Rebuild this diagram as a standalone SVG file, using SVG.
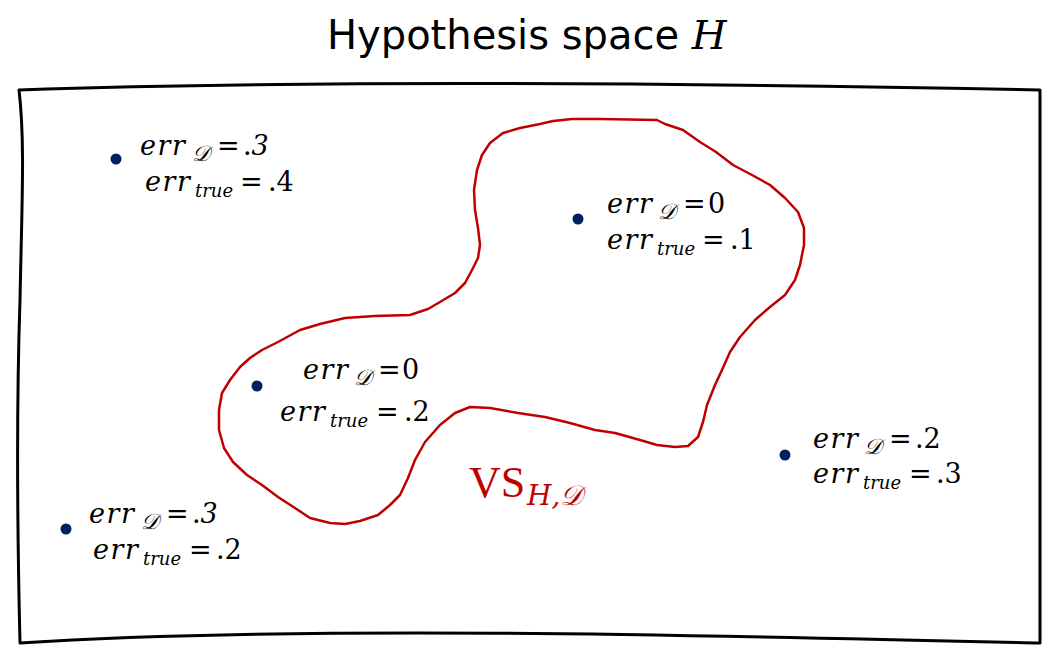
<svg xmlns="http://www.w3.org/2000/svg" width="1057" height="660" viewBox="0 0 1057 660">
<style>
.title{font-family:"DejaVu Sans","Liberation Sans",sans-serif;font-size:40px;fill:#000}
.m{font-family:"DejaVu Serif","Liberation Serif",serif;font-size:27px;fill:#000}
.it{font-style:italic}
.sub{font-family:"DejaVu Serif","Liberation Serif",serif;font-style:italic;font-size:18px}
.sd{font-size:22px}
.dot{fill:#002060}
.vs{font-family:"Liberation Serif","DejaVu Serif",serif;font-size:44px;fill:#C00000}
.vss{font-family:"DejaVu Serif","Liberation Serif",serif;font-style:italic;font-size:28px;fill:#C00000}
</style>
<rect width="1057" height="660" fill="#fff"/>
<g id="frame">
<path d="M19,90 C200,84 500,79 1040,90 L1040,643 C700,635 300,625 20,643 C18,560 16,420 20,300 C22,200 25,140 19,90 Z" fill="none" stroke="#000" stroke-width="3" stroke-linejoin="round"/>
</g>
<g id="title"><text class="title" x="327" y="49">Hypothesis space <tspan font-family="DejaVu Serif, serif" font-style="italic">H</tspan></text></g>
<g id="version-space">
<path d="M553,121 L572,119 L600,119 L657,120 L665,124 L683,130 L700,142 L716,152 L733,165 L752,175 L770,185 L785,198 L798,212 L804,228 L804,245 L800,265 L795,280 L785,295 L770,307 L755,320 L740,337 L730,352 L722,370 L715,385 L707,405 L703,422 L698,437 L688,446 L675,447 L657,445 L640,440 L615,433 L595,430 L570,423 L545,417 L518,413 L490,408 L470,407 L455,413 L440,425 L425,442 L415,460 L408,478 L400,495 L390,505 L378,515 L360,521 L345,524 L330,523 L310,518 L295,508 L278,497 L262,485 L247,475 L233,462 L224,448 L219,430 L219,410 L222,393 L230,380 L240,367 L250,358 L262,350 L278,342 L300,330 L320,324 L345,318 L375,316 L410,315 L428,309 L440,302 L455,293 L465,283 L472,270 L478,258 L480,245 L478,228 L475,210 L474,190 L477,170 L482,155 L490,143 L503,133 L520,128 L540,124 Z" fill="none" stroke="#C00000" stroke-width="2.5" stroke-linejoin="round"/>
<text class="vs" x="469" y="497">VS<tspan class="vss" x="527" dy="8">H,</tspan><tspan class="vss" font-size="32px">𝒟</tspan></text>
</g>
<g id="h1">
<circle class="dot" cx="116" cy="159" r="5.5"/>
<text class="m" y="155"><tspan class="it" x="140" letter-spacing="1.5">err</tspan><tspan class="sub sd" x="192" dy="6">𝒟</tspan><tspan x="217" dy="-6">=</tspan><tspan x="243">.</tspan><tspan class="it">3</tspan></text>
<text class="m" y="191"><tspan class="it" x="145" letter-spacing="1.5">err</tspan><tspan class="sub" x="195" dy="6">true</tspan><tspan x="240" dy="-6">=</tspan><tspan x="268">.4</tspan></text>
</g>
<g id="h2">
<circle class="dot" cx="578" cy="219" r="5.5"/>
<text class="m" y="213"><tspan class="it" x="607" letter-spacing="1.5">err</tspan><tspan class="sub sd" x="658" dy="6">𝒟</tspan><tspan x="683" dy="-6">=</tspan><tspan x="708">0</tspan></text>
<text class="m" y="249"><tspan class="it" x="607" letter-spacing="1.5">err</tspan><tspan class="sub" x="657" dy="6">true</tspan><tspan x="702" dy="-6">=</tspan><tspan x="730">.1</tspan></text>
</g>
<g id="h3">
<circle class="dot" cx="257" cy="386" r="5.5"/>
<text class="m" y="379"><tspan class="it" x="303" letter-spacing="1.5">err</tspan><tspan class="sub sd" x="354" dy="6">𝒟</tspan><tspan x="378" dy="-6">=</tspan><tspan x="402">0</tspan></text>
<text class="m" y="421"><tspan class="it" x="280" letter-spacing="1.5">err</tspan><tspan class="sub" x="330" dy="6">true</tspan><tspan x="376" dy="-6">=</tspan><tspan x="404">.2</tspan></text>
</g>
<g id="h4">
<circle class="dot" cx="785" cy="455" r="5.5"/>
<text class="m" y="448"><tspan class="it" x="813" letter-spacing="1.5">err</tspan><tspan class="sub sd" x="864" dy="6">𝒟</tspan><tspan x="889" dy="-6">=</tspan><tspan x="915">.2</tspan></text>
<text class="m" y="483"><tspan class="it" x="813" letter-spacing="1.5">err</tspan><tspan class="sub" x="863" dy="6">true</tspan><tspan x="909" dy="-6">=</tspan><tspan x="936">.3</tspan></text>
</g>
<g id="h5">
<circle class="dot" cx="66" cy="529" r="5.5"/>
<text class="m" y="523"><tspan class="it" x="89" letter-spacing="1.5">err</tspan><tspan class="sub sd" x="141" dy="6">𝒟</tspan><tspan x="166" dy="-6">=</tspan><tspan x="192">.</tspan><tspan class="it">3</tspan></text>
<text class="m" y="559"><tspan class="it" x="93" letter-spacing="1.5">err</tspan><tspan class="sub" x="143" dy="6">true</tspan><tspan x="189" dy="-6">=</tspan><tspan x="216">.2</tspan></text>
</g>
</svg>
